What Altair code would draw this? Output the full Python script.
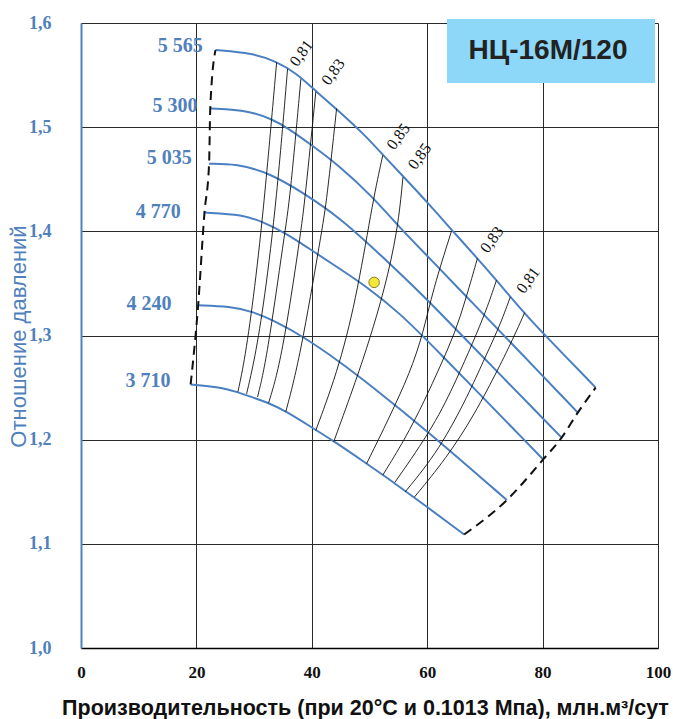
import altair as alt
import pandas as pd

# ---------------- data ----------------
speed_names = ["5 565", "5 300", "5 035", "4 770", "4 240", "3 710"]

s5565_x = [23.3, 29.8, 33.9, 37.3, 40.8, 44.8, 48.9, 52.4, 55.8, 60.5, 64.3, 68.7, 72.0, 76.9, 80.1, 89.2]
s5565_y = [1.574, 1.571, 1.563, 1.552, 1.534, 1.515, 1.494, 1.473, 1.453, 1.425, 1.401, 1.374, 1.353, 1.321, 1.302, 1.250]

s5300_x = [22.4, 29.2, 33.3, 35.6, 39.9, 44.3, 50.6, 55.3, 60.1, 69.1, 76.1, 86.1]
s5300_y = [1.518, 1.516, 1.507, 1.500, 1.483, 1.465, 1.433, 1.403, 1.376, 1.324, 1.284, 1.226]

s5035_x = [22.2, 26.9, 32.7, 38.5, 44.9, 51.8, 60.1, 63.9, 83.3]
s5035_y = [1.465, 1.465, 1.456, 1.437, 1.413, 1.378, 1.334, 1.312, 1.202]

s4770_x = [21.4, 28.1, 31.5, 35.6, 39.1, 44.3, 49.5, 55.3, 60.1, 80.1]
s4770_y = [1.418, 1.416, 1.409, 1.398, 1.385, 1.366, 1.347, 1.321, 1.295, 1.181]

s4240_x = [20.3, 25.8, 29.8, 33.9, 38.5, 44.8, 50.0, 60.1, 73.8]
s4240_y = [1.329, 1.328, 1.323, 1.313, 1.299, 1.275, 1.253, 1.208, 1.142]

s3710_x = [19.0, 24.6, 28.0, 32.7, 35.6, 40.2, 43.7, 49.5, 52.4, 60.1, 66.4]
s3710_y = [1.253, 1.250, 1.244, 1.235, 1.227, 1.211, 1.199, 1.177, 1.166, 1.135, 1.109]

speed_x = [s5565_x, s5300_x, s5035_x, s4770_x, s4240_x, s3710_x]
speed_y = [s5565_y, s5300_y, s5035_y, s4770_y, s4240_y, s3710_y]

# labels of the speed lines (right edge of text)
speed_label_x = [21.1, 20.2, 19.2, 17.3, 15.7, 15.5]
speed_label_y = [1.578, 1.520, 1.470, 1.419, 1.330, 1.256]

# surge (left) and end (right) dashed boundaries
surge_x = [19.0, 20.3, 21.4, 22.2, 22.4, 23.3]
surge_y = [1.253, 1.329, 1.418, 1.465, 1.518, 1.574]
end_x = [66.4, 73.8, 80.1, 83.3, 86.1, 89.2]
end_y = [1.109, 1.142, 1.181, 1.202, 1.226, 1.250]

# efficiency iso-lines (from top speed line down to the lowest one)
eff_lines_x = [
    [33.9, 31.8, 30.1, 28.4, 27.2],
    [35.8, 33.9, 31.8, 30.1, 28.7],
    [38.1, 36.2, 35.3, 32.2, 30.6],
    [40.7, 38.8, 38.1, 34.8, 32.5],
    [44.3, 42.6, 41.7, 37.9, 35.5],
    [52.3, 50.6, 48.0, 44.9, 40.7],
    [55.8, 54.9, 52.6, 50.0, 47.8, 43.8],
    [64.2, 61.0, 59.3, 57.0, 53.5, 49.5],
    [68.7, 66.8, 64.8, 62.2, 59.6, 56.1, 52.3],
    [72.0, 70.3, 67.9, 65.1, 61.3, 54.4],
    [74.4, 72.5, 69.6, 67.3, 62.1, 56.2],
    [76.9, 74.8, 72.5, 68.2, 63.3, 57.8],
]
eff_lines_y = [
    [1.562, 1.430, 1.344, 1.277, 1.246],
    [1.556, 1.430, 1.334, 1.277, 1.244],
    [1.546, 1.430, 1.399, 1.277, 1.241],
    [1.534, 1.430, 1.399, 1.277, 1.235],
    [1.518, 1.430, 1.399, 1.277, 1.227],
    [1.473, 1.430, 1.344, 1.272, 1.209],
    [1.452, 1.401, 1.344, 1.296, 1.259, 1.198],
    [1.400, 1.344, 1.302, 1.264, 1.222, 1.177],
    [1.374, 1.337, 1.302, 1.270, 1.238, 1.200, 1.166],
    [1.353, 1.325, 1.293, 1.258, 1.214, 1.159],
    [1.337, 1.308, 1.274, 1.245, 1.190, 1.150],
    [1.322, 1.296, 1.270, 1.224, 1.182, 1.145],
]

eff_label_text = ["0,81", "0,83", "0,85", "0,85", "0,83", "0,81"]
eff_label_x = [38.2, 43.7, 55.0, 58.7, 71.2, 77.5]
eff_label_y = [1.571, 1.553, 1.491, 1.472, 1.392, 1.353]

point_x = [50.8]
point_y = [1.351]

title_text = "НЦ-16М/120"

# ---------------- build tables ----------------
BLUE = "#4a7fc1"
LBLUE = "#4f81bd"

rows = []
for name, xs, ys in zip(speed_names, speed_x, speed_y):
    for i, (x, y) in enumerate(zip(xs, ys)):
        rows.append({"curve": name, "i": i, "x": x, "y": y})
speed_df = pd.DataFrame(rows)

rows = []
for k, (xs, ys) in enumerate(zip(eff_lines_x, eff_lines_y)):
    for i, (x, y) in enumerate(zip(xs, ys)):
        rows.append({"line": k, "i": i, "x": x, "y": y})
eff_df = pd.DataFrame(rows)

rows = []
for side, xs, ys in [("surge", surge_x, surge_y), ("end", end_x, end_y)]:
    for i, (x, y) in enumerate(zip(xs, ys)):
        rows.append({"side": side, "i": i, "x": x, "y": y})
bound_df = pd.DataFrame(rows)

slab_df = pd.DataFrame({"t": speed_names, "x": speed_label_x, "y": speed_label_y})
elab_df = pd.DataFrame({"t": eff_label_text, "x": eff_label_x, "y": eff_label_y})
pt_df = pd.DataFrame({"x": point_x, "y": point_y})
one_df = pd.DataFrame({"t": [title_text]})

xscale = alt.Scale(domain=[0, 100], nice=False, zero=False)
yscale = alt.Scale(domain=[1.0, 1.6], nice=False, zero=False)

xaxis = alt.Axis(
    values=[0, 20, 40, 60, 80, 100], format="d",
    grid=True, gridColor="#2a2a2a", gridWidth=1,
    domainColor="#000000", domainWidth=1.5, ticks=False,
    labelFont="Liberation Serif", labelFontWeight="bold", labelFontSize=17,
    labelColor="#111111", labelPadding=16, labelFlush=False,
    title="Производительность (при 20°C и 0.1013 Мпа), млн.м³/сут",
    titleFont="Liberation Sans", titleFontWeight="bold", titleFontSize=21.5,
    titleColor="#111111", titleX=284, titleY=60, titleBaseline="middle",
    titleAlign="center",
)
yaxis = alt.Axis(
    values=[1.0, 1.1, 1.2, 1.3, 1.4, 1.5, 1.6],
    labelExpr="replace(format(datum.value, '.1f'), '.', ',')",
    grid=True, gridColor="#2a2a2a", gridWidth=1,
    domainColor=LBLUE, domainWidth=2, ticks=False,
    labelFont="Liberation Serif", labelFontWeight="bold", labelFontSize=18,
    labelColor=LBLUE, labelPadding=30, labelFlush=False,
    title="Отношение давлений",
    titleFont="Liberation Sans", titleFontWeight="normal", titleFontSize=22,
    titleColor=LBLUE, titleX=-63, titleY=313, titleAngle=270,
    titleBaseline="middle", titleAlign="center",
)

base_x = alt.X("x:Q", scale=xscale, axis=xaxis)
base_y = alt.Y("y:Q", scale=yscale, axis=yaxis)

speed = alt.Chart(speed_df).mark_line(color=BLUE, strokeWidth=2, interpolate="basis").encode(
    x=base_x, y=base_y, detail="curve:N", order="i:Q"
)
eff = alt.Chart(eff_df).mark_line(color="#111111", strokeWidth=0.9, interpolate="basis").encode(
    x="x:Q", y="y:Q", detail="line:N", order="i:Q"
)
bounds = alt.Chart(bound_df).mark_line(color="#111111", strokeWidth=2, strokeDash=[9, 6],
                                        interpolate="monotone").encode(
    x="x:Q", y="y:Q", detail="side:N", order="i:Q"
)
slab = alt.Chart(slab_df).mark_text(align="right", baseline="middle", font="Liberation Serif",
                                    fontWeight="bold", fontSize=20, color=LBLUE).encode(
    x="x:Q", y="y:Q", text="t:N"
)
elab = alt.Chart(elab_df).mark_text(align="center", baseline="middle", font="Liberation Serif",
                                    fontSize=16, color="#111111", angle=306).encode(
    x="x:Q", y="y:Q", text="t:N"
)
pt = alt.Chart(pt_df).mark_point(filled=True, size=110, color="#f5e63c", stroke="#8a7d1e",
                                 strokeWidth=1, opacity=1).encode(x="x:Q", y="y:Q")

box = alt.Chart(one_df).mark_rect(color="#8dd8f8").encode(
    x=alt.value(366), x2=alt.value(574), y=alt.value(-4), y2=alt.value(60)
)
box_text = alt.Chart(one_df).mark_text(font="Liberation Sans", fontWeight="bold", fontSize=28,
                                       color="#222222", align="center", baseline="middle").encode(
    x=alt.value(467), y=alt.value(28), text="t:N"
)

chart = alt.layer(speed, eff, bounds, slab, elab, pt, box, box_text).properties(
    width=577, height=625,
    padding={"left": 81, "top": 23, "right": 15, "bottom": 71},
    autosize=alt.AutoSizeParams(type="none"),
    background="white",
).configure_view(stroke=None)

chart.save("out.html", embed_options={"renderer": "svg", "actions": False})
